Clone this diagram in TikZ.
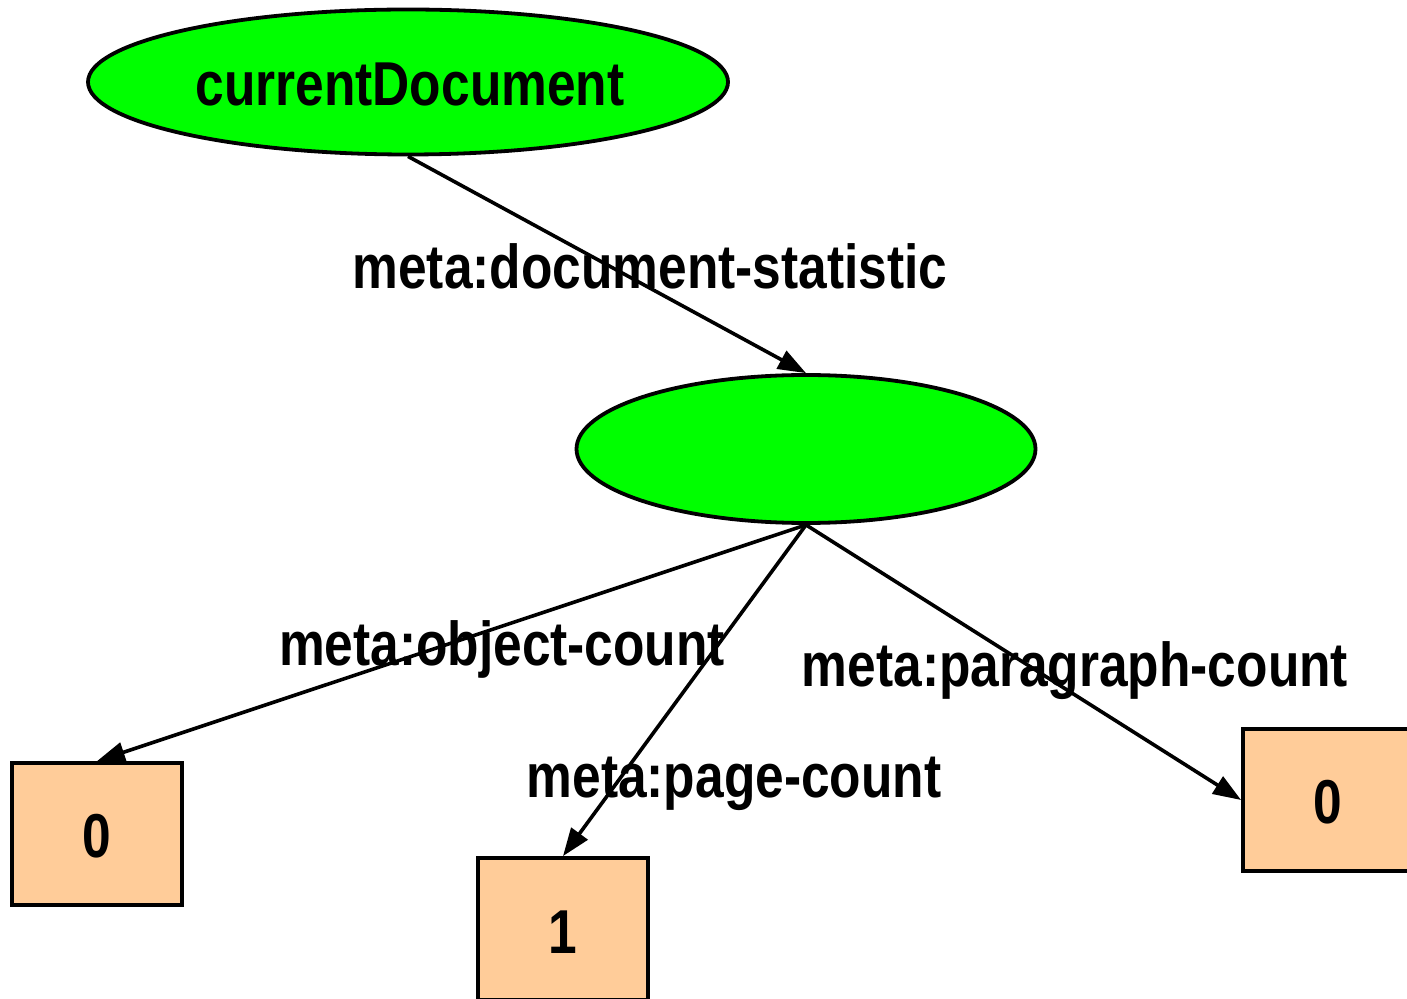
\documentclass[tikz,border=0pt]{standalone}
\usepackage{fontspec}
\setmainfont{Liberation Sans}[FakeStretch=0.83]
\usetikzlibrary{shapes.geometric,arrows.meta}
\definecolor{nodegreen}{RGB}{0,255,0}
\definecolor{litbox}{RGB}{255,204,153}
\begin{document}
\begin{tikzpicture}[x=0.5pt,y=-0.5pt,
  every node/.style={font=\fontsize{31}{37}\selectfont\bfseries},
  resnode/.style={ellipse,draw,line width=1.9pt,fill=nodegreen,inner sep=0pt},
  literal/.style={rectangle,draw,line width=1.9pt,fill=litbox,inner sep=0pt,
    minimum width=85pt,minimum height=71pt},
  edgelabel/.style={anchor=base,inner sep=0pt},
  arr/.style={line width=1.8pt,-{Triangle[length=14pt,width=10pt]}}]
\useasboundingbox (0,0) rectangle (1407,999);
\fill[white] (0,0) rectangle (1407,999);

% resources
\node[resnode,minimum width=320pt,minimum height=72.5pt] (doc) at (408,82) {};
\node[edgelabel] (doclbl) at (410,106) {currentDocument};
\node[resnode,minimum width=229.5pt,minimum height=74pt] (stat) at (806,449) {};

% literals
\node[literal] (obj) at (97,834) {};
\node[edgelabel] (objv) at (97,857) {0};
\node[literal] (page) at (563,929) {};
\node[edgelabel] (pagev) at (563,953) {1};
\node[literal] (para) at (1328,800) {};
\node[edgelabel] (parav) at (1328,823) {0};

% properties
\draw[arr] (doc.south) -- (stat.north);
\draw[arr] (stat.south) -- (obj.north);
\draw[arr] (stat.south) -- (page.north);
\draw[arr] (stat.south) -- (para.west);

% property labels
\node[edgelabel] (l1) at (650,289) {meta:document-statistic};
\node[edgelabel] (l2) at (502,665) {meta:object-count};
\node[edgelabel] (l3) at (734,797) {meta:page-count};
\node[edgelabel] (l4) at (1075,686) {meta:paragraph-count};
\end{tikzpicture}
\end{document}
